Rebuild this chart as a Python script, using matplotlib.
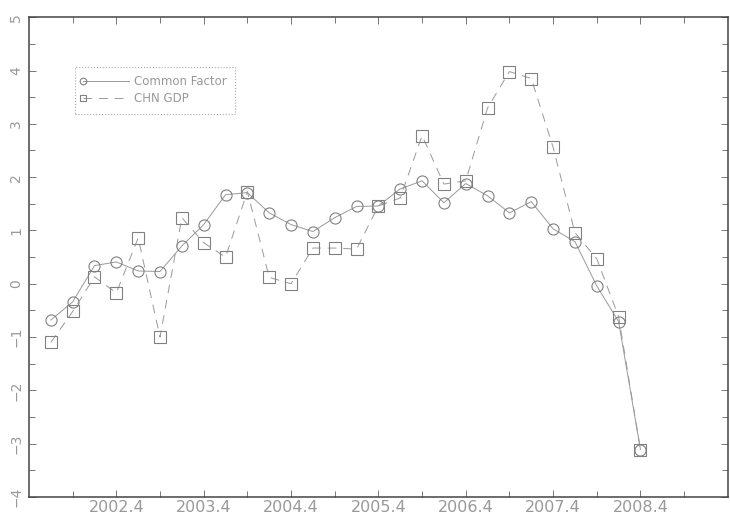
import matplotlib
matplotlib.use('Agg')
import matplotlib.pyplot as plt
from matplotlib.ticker import MultipleLocator, FixedLocator, FixedFormatter

# Dados (trimestres 2002.1 .. 2008.4)
trimestres = ['%d.%d' % (a, q) for a in range(2002, 2009) for q in range(1, 5)]
common_factor = [-0.68, -0.34, 0.34, 0.41, 0.24, 0.23, 0.71, 1.11, 1.67, 1.71,
                 1.33, 1.11, 0.98, 1.24, 1.45, 1.46, 1.78, 1.93, 1.52, 1.88,
                 1.65, 1.33, 1.54, 1.03, 0.79, -0.04, -0.71, -3.11]
chn_gdp = [-1.10, -0.52, 0.13, -0.17, 0.86, -1.00, 1.24, 0.77, 0.50, 1.73,
           0.12, 0.00, 0.67, 0.67, 0.65, 1.46, 1.61, 2.78, 1.87, 1.93,
           3.30, 3.98, 3.85, 2.56, 0.96, 0.47, -0.62, -3.11]
rotulos_x = ['2002.4', '2003.4', '2004.4', '2005.4', '2006.4', '2007.4', '2008.4']

cor_linha = '#999999'
cor_texto = '#999999'

x = list(range(len(trimestres)))

fig = plt.figure(figsize=(7.3, 5.21), dpi=100)
ax = fig.add_axes([0.0397, 0.046, 0.9573, 0.921])

ax.plot(x, common_factor, color=cor_linha, lw=0.7, marker='o', ms=8,
        mfc='none', mec='#808080', mew=0.8, label='Common Factor')
ax.plot(x, chn_gdp, color=cor_linha, lw=0.7, dashes=(9, 7), marker='s', ms=8,
        mfc='none', mec='#808080', mew=0.8, label='CHN GDP')

ax.set_xlim(-1, 31)
ax.set_ylim(-4, 5)

# eixo x: marcas a cada 2 trimestres, rótulos no 4o trimestre
ax.xaxis.set_major_locator(FixedLocator([trimestres.index(r) for r in rotulos_x]))
ax.xaxis.set_major_formatter(FixedFormatter(rotulos_x))
ax.xaxis.set_minor_locator(FixedLocator([1, 5, 9, 13, 17, 21, 25, 29]))
ax.yaxis.set_major_locator(MultipleLocator(1))
ax.yaxis.set_minor_locator(MultipleLocator(0.5))

ax.tick_params(axis='both', which='both', direction='in', top=True, right=True,
               color='#777777', width=0.7)
ax.tick_params(axis='both', which='major', length=5)
ax.tick_params(axis='both', which='minor', length=4)
ax.tick_params(axis='x', which='major', labelsize=11.5, labelcolor=cor_texto, pad=2)
ax.tick_params(axis='y', which='major', labelsize=10, labelcolor=cor_texto, pad=4)
for lbl in ax.get_yticklabels():
    lbl.set_rotation(90)
    lbl.set_va('center')

for s in ax.spines.values():
    s.set_color('#444444')
    s.set_linewidth(1.1)

leg = ax.legend(loc='upper left', bbox_to_anchor=(0.066, 0.896), fontsize=8.5,
                numpoints=1, markerscale=0.6, handlelength=3.9, handletextpad=0.4,
                borderpad=0.7, borderaxespad=0, fancybox=False, framealpha=1,
                labelspacing=0.35)
leg.get_frame().set_edgecolor('#aaaaaa')
leg.get_frame().set_linestyle(':')
leg.get_frame().set_linewidth(0.8)
for t in leg.get_texts():
    t.set_color(cor_texto)
for h in leg.legend_handles:
    h.set_markevery([0])

fig.savefig('out.png', dpi=100)
